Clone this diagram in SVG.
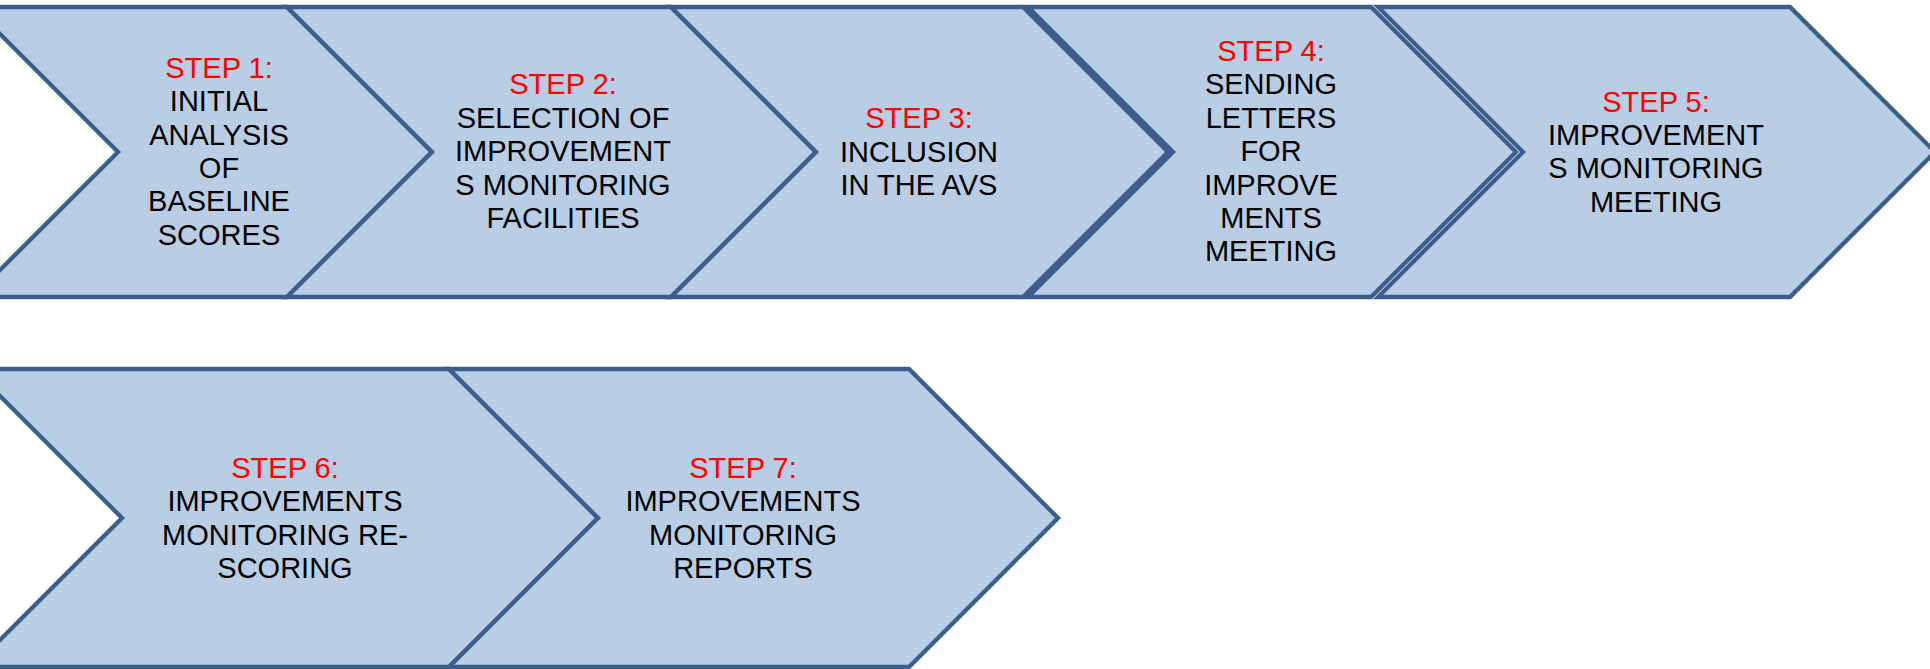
<svg xmlns="http://www.w3.org/2000/svg" width="1930" height="669" viewBox="0 0 1930 669">
<style>
.chev{fill:#B9CDE5;stroke:#3B5E8C;stroke-width:4.3;stroke-linejoin:miter;stroke-miterlimit:10}
.lbl{font-family:"Liberation Sans",Arial,sans-serif;font-size:29px;fill:#000000;text-anchor:middle}
.step{fill:#FF0000}
</style>
<rect x="0" y="0" width="1930" height="669" fill="#FFFFFF"/>
<g id="connectors"/>
<g id="step1">
<polygon class="chev" points="-27,7 287,7 432,152 287,297 -27,297 118,152"/>
<text class="lbl" x="219" y="77.7"><tspan class="step">STEP 1:</tspan><tspan x="219" dy="33.4">INITIAL</tspan><tspan x="219" dy="33.4">ANALYSIS</tspan><tspan x="219" dy="33.4">OF</tspan><tspan x="219" dy="33.4">BASELINE</tspan><tspan x="219" dy="33.4">SCORES</tspan></text>
</g>
<g id="step2">
<polygon class="chev" points="287,7 671,7 816,152 671,297 287,297 432,152"/>
<text class="lbl" x="563" y="94.4"><tspan class="step">STEP 2:</tspan><tspan x="563" dy="33.4">SELECTION OF</tspan><tspan x="563" dy="33.4">IMPROVEMENT</tspan><tspan x="563" dy="33.4">S MONITORING</tspan><tspan x="563" dy="33.4">FACILITIES</tspan></text>
</g>
<g id="step3">
<polygon class="chev" points="671,7 1023,7 1168,152 1023,297 671,297 816,152"/>
<text class="lbl" x="919" y="128.3"><tspan class="step">STEP 3:</tspan><tspan x="919" dy="33.4">INCLUSION</tspan><tspan x="919" dy="33.4">IN THE AVS</tspan></text>
</g>
<g id="step4">
<polygon class="chev" points="1028,7 1371,7 1516,152 1371,297 1028,297 1173,152"/>
<text class="lbl" x="1271" y="61"><tspan class="step">STEP 4:</tspan><tspan x="1271" dy="33.4">SENDING</tspan><tspan x="1271" dy="33.4">LETTERS</tspan><tspan x="1271" dy="33.4">FOR</tspan><tspan x="1271" dy="33.4">IMPROVE</tspan><tspan x="1271" dy="33.4">MENTS</tspan><tspan x="1271" dy="33.4">MEETING</tspan></text>
</g>
<g id="step5">
<polygon class="chev" points="1378,7 1790,7 1935,152 1790,297 1378,297 1523,152"/>
<text class="lbl" x="1656" y="111.5"><tspan class="step">STEP 5:</tspan><tspan x="1656" dy="33.4">IMPROVEMENT</tspan><tspan x="1656" dy="33.4">S MONITORING</tspan><tspan x="1656" dy="33.4">MEETING</tspan></text>
</g>
<g id="step6">
<polygon class="chev" points="-27,369 449,369 598,518 449,667 -27,667 122,518"/>
<text class="lbl" x="285" y="478"><tspan class="step">STEP 6:</tspan><tspan x="285" dy="33.4">IMPROVEMENTS</tspan><tspan x="285" dy="33.4">MONITORING RE-</tspan><tspan x="285" dy="33.4">SCORING</tspan></text>
</g>
<g id="step7">
<polygon class="chev" points="449,369 909,369 1058,518 909,667 449,667 598,518"/>
<text class="lbl" x="743" y="478"><tspan class="step">STEP 7:</tspan><tspan x="743" dy="33.4">IMPROVEMENTS</tspan><tspan x="743" dy="33.4">MONITORING</tspan><tspan x="743" dy="33.4">REPORTS</tspan></text>
</g>
</svg>
